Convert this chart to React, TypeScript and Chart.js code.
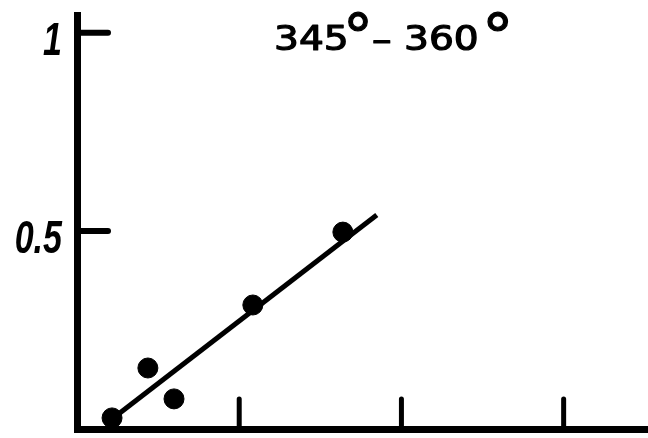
import React, { useEffect, useRef } from "react";
import { Chart, registerables } from "chart.js";

Chart.register(...registerables);

const pointX = [0.216, 0.437, 0.598, 1.084, 1.639];
const pointY = [0.028, 0.154, 0.076, 0.313, 0.497];
const fitX = [0.2, 1.848];
const fitY = [0.02, 0.54];
const yTickValues = [0.5, 1];
const yTickLabels = ["0.5", "1"];
const xTickValues = [1, 2, 3];
const titleParts = ["345", "°", "–", "360", "°"];

const inwardTicks = {
  id: "inwardTicks",
  beforeDraw(chart: any) {
    const ctx = chart.ctx;
    ctx.save();
    ctx.fillStyle = "#fff";
    ctx.fillRect(0, 0, chart.width, chart.height);
    ctx.restore();
  },
  afterDraw(chart: any) {
    const ctx = chart.ctx;
    const xs = chart.scales.x;
    const ys = chart.scales.y;
    const area = chart.chartArea;
    ctx.save();
    ctx.strokeStyle = "#000";
    ctx.lineCap = "round";
    ctx.lineWidth = 5;
    xTickValues.forEach((v) => {
      const px = xs.getPixelForValue(v);
      ctx.beginPath();
      ctx.moveTo(px, area.bottom);
      ctx.lineTo(px, area.bottom - 30);
      ctx.stroke();
    });
    ctx.lineWidth = 6;
    yTickValues.forEach((v) => {
      const py = ys.getPixelForValue(v);
      ctx.beginPath();
      ctx.moveTo(area.left, py);
      ctx.lineTo(area.left + 31, py);
      ctx.stroke();
    });
    // y tick labels (condensed bold italic)
    ctx.fillStyle = "#000";
    ctx.font = "italic bold 46px 'Liberation Sans'";
    ctx.textAlign = "right";
    ctx.textBaseline = "alphabetic";
    yTickValues.forEach((v, i) => {
      const py = ys.getPixelForValue(v);
      ctx.save();
      ctx.translate(area.left - 15, py + 22);
      ctx.scale(0.74, 1);
      ctx.fillText(yTickLabels[i], 0, 0);
      ctx.restore();
    });
    // title, drawn in parts
    const partPos = [
      { x: 274, y: 50, size: 34, sx: 1.15 },
      { x: 343, y: 57, size: 60, sx: 1.0 },
      { x: 372, y: 51, size: 34, sx: 1.15 },
      { x: 404, y: 50, size: 34, sx: 1.15 },
      { x: 482, y: 57, size: 60, sx: 1.05 },
    ];
    ctx.textAlign = "left";
    ctx.lineJoin = "round";
    ctx.lineCap = "butt";
    titleParts.forEach((t, i) => {
      const p = partPos[i];
      ctx.save();
      ctx.translate(p.x, p.y);
      ctx.scale(p.sx, 1);
      ctx.font = `${p.size}px 'DejaVu Sans'`;
      ctx.lineWidth = 1.2;
      ctx.fillText(t, 0, 0);
      ctx.strokeText(t, 0, 0);
      ctx.restore();
    });
    ctx.restore();
  },
};

export default function App() {
  const ref = useRef<HTMLCanvasElement>(null);
  useEffect(() => {
    if (!ref.current) return;
    const chart = new Chart(ref.current, {
      type: "scatter",
      data: {
        datasets: [
          {
            type: "line",
            data: fitX.map((x, i) => ({ x, y: fitY[i] })),
            borderColor: "#000",
            borderWidth: 5,
            pointRadius: 0,
            showLine: true,
            fill: false,
            clip: false as any,
          },
          {
            data: pointX.map((x, i) => ({ x, y: pointY[i] })),
            backgroundColor: "#000",
            borderColor: "#000",
            pointRadius: 10,
            pointHoverRadius: 10,
            clip: false as any,
          },
        ],
      },
      options: {
        responsive: false,
        animation: false,
        layout: { autoPadding: false, padding: { top: 15, right: 0, left: 0, bottom: 0 } },
        plugins: {
          legend: { display: false },
          tooltip: { enabled: false },
          title: { display: false },
        },
        scales: {
          x: {
            type: "linear",
            min: 0,
            max: 3.52,
            grid: { display: false, drawTicks: false },
            border: { display: true, width: 7, color: "#000" },
            ticks: { display: false },
            afterFit: (s: any) => {
              s.height = 9;
            },
          },
          y: {
            type: "linear",
            min: 0,
            max: 1.045,
            grid: { display: false, drawTicks: false },
            border: { display: true, width: 7, color: "#000" },
            afterBuildTicks: (s: any) => {
              s.ticks = yTickValues.map((v) => ({ value: v }));
            },
            ticks: { display: false },
            afterFit: (s: any) => {
              s.width = 77;
            },
          },
        },
      },
      plugins: [inwardTicks],
    });
    return () => chart.destroy();
  }, []);
  return (
    <div style={{ position: "fixed", left: 0, top: 0, width: 648, height: 438, background: "#fff" }}>
      <canvas ref={ref} width={648} height={438} style={{ display: "block" }} />
    </div>
  );
}
